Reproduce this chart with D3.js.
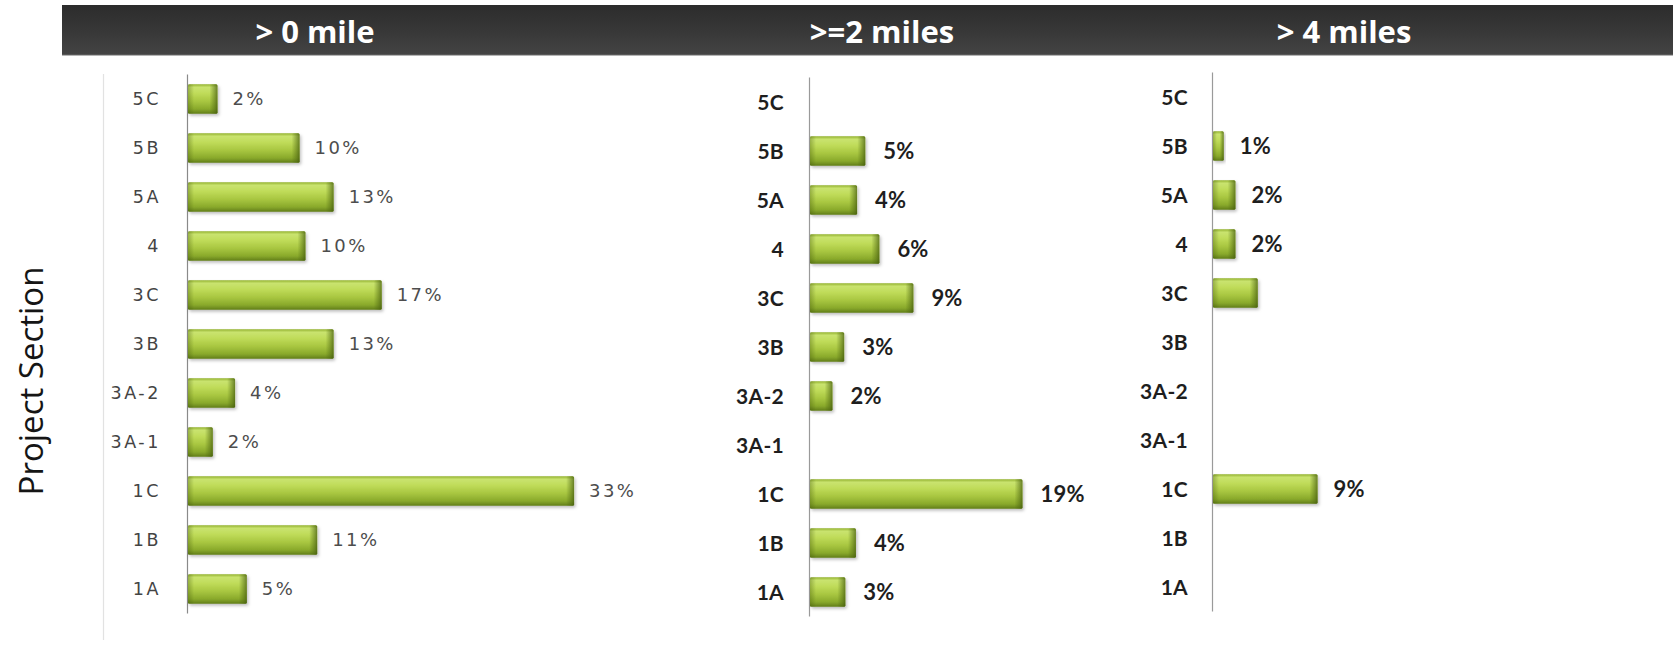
<!DOCTYPE html>
<html>
<head>
<meta charset="utf-8">
<script src="https://cdn.jsdelivr.net/npm/d3@7"></script>
<style>
  html, body { margin: 0; padding: 0; background: #ffffff; }
  svg { display: block; }
</style>
</head>
<body>
<script>
// ---------------- data ----------------
const categories = ["5C", "5B", "5A", "4", "3C", "3B", "3A-2", "3A-1", "1C", "1B", "1A"];
const panelTitles = ["> 0 mile", ">=2 miles", "> 4 miles"];
const valuesAny   = [2.6, 9.6, 12.5, 10.1, 16.6, 12.5, 4.1, 2.2, 33, 11.1, 5.1];
const labelsAny   = ["2%", "10%", "13%", "10%", "17%", "13%", "4%", "2%", "33%", "11%", "5%"];
const values2mi   = [null, 4.8, 4.1, 6.0, 8.9, 3.0, 2.0, null, 18.2, 4.0, 3.1];
const labels2mi   = ["", "5%", "4%", "6%", "9%", "3%", "2%", "", "19%", "4%", "3%"];
const values4mi   = [null, 1.0, 2.0, 2.0, 3.9, null, null, null, 9.0, null, null];
const labels4mi   = ["", "1%", "2%", "2%", "", "", "", "", "9%", "", ""];
const yTitle = "Project Section";

// ---------------- layout ----------------
const W = 1673, H = 655;
const pxPerUnit = 11.73;
const panels = [
  { title: panelTitles[0], values: valuesAny, labels: labelsAny, axisX: 187, top: 74.5, bottom: 613.5, titleX: 315,
    tickFont: "'DejaVu Sans', Verdana, sans-serif", tickSize: 17.5, tickWeight: 400, tickFill: "#444", tickSpacing: 2.6, tickPad: 26,
    labFont: "'DejaVu Sans', Verdana, sans-serif", labSize: 18, labWeight: 400, labFill: "#4d4d4d", labSpacing: 2.4, labGap: 15, axisColor: "#8a8a8a" },
  { title: panelTitles[1], values: values2mi, labels: labels2mi, axisX: 809, top: 77.5, bottom: 616.5, titleX: 882,
    tickFont: "Lato, 'Open Sans', sans-serif", tickSize: 21, tickWeight: 700, tickFill: "#1e1e1e", tickSpacing: 0.3, tickPad: 25,
    labFont: "Lato, 'Open Sans', sans-serif", labSize: 22, labWeight: 700, labFill: "#1e1e1e", labSpacing: 0.2, labGap: 18, axisColor: "#9a9a9a" },
  { title: panelTitles[2], values: values4mi, labels: labels4mi, axisX: 1212, top: 72.5, bottom: 611.5, titleX: 1344,
    tickFont: "Lato, 'Open Sans', sans-serif", tickSize: 21, tickWeight: 700, tickFill: "#1e1e1e", tickSpacing: 0.3, tickPad: 24,
    labFont: "Lato, 'Open Sans', sans-serif", labSize: 22, labWeight: 700, labFill: "#1e1e1e", labSpacing: 0.2, labGap: 16, axisColor: "#9a9a9a" }
];

const svg = d3.select("body").append("svg").attr("width", W).attr("height", H);
const defs = svg.append("defs");

// header gradient
const hg = defs.append("linearGradient").attr("id", "hdrGrad").attr("x1", 0).attr("y1", 0).attr("x2", 0).attr("y2", 1);
hg.append("stop").attr("offset", "0%").attr("stop-color", "#2c2c2c");
hg.append("stop").attr("offset", "55%").attr("stop-color", "#383838");
hg.append("stop").attr("offset", "100%").attr("stop-color", "#444444");

// bar body gradient (vertical)
const bg = defs.append("linearGradient").attr("id", "barGrad").attr("x1", 0).attr("y1", 0).attr("x2", 0).attr("y2", 1);
[["0%", "#93b22f"], ["10%", "#c9e36f"], ["30%", "#c0dc5a"], ["58%", "#a8c640"], ["84%", "#89a92b"], ["100%", "#617e18"]]
  .forEach(([o, c]) => bg.append("stop").attr("offset", o).attr("stop-color", c));
// end cap gradient
const cg = defs.append("linearGradient").attr("id", "capGrad").attr("x1", 0).attr("y1", 0).attr("x2", 1).attr("y2", 0);
cg.append("stop").attr("offset", "0%").attr("stop-color", "#4b6410").attr("stop-opacity", 0);
cg.append("stop").attr("offset", "60%").attr("stop-color", "#4b6410").attr("stop-opacity", 0.45);
cg.append("stop").attr("offset", "100%").attr("stop-color", "#3e540a").attr("stop-opacity", 0.7);
// left shade
const lg = defs.append("linearGradient").attr("id", "leftGrad").attr("x1", 0).attr("y1", 0).attr("x2", 1).attr("y2", 0);
lg.append("stop").attr("offset", "0%").attr("stop-color", "#3f5508").attr("stop-opacity", 0.35);
lg.append("stop").attr("offset", "100%").attr("stop-color", "#3f5508").attr("stop-opacity", 0);

const shadow = defs.append("filter").attr("id", "shadow").attr("x", "-10%").attr("y", "-20%").attr("width", "130%").attr("height", "160%");
shadow.append("feDropShadow").attr("dx", 1.5).attr("dy", 2).attr("stdDeviation", 1.6)
  .attr("flood-color", "#000").attr("flood-opacity", 0.25);

// faint left frame line
svg.append("line").attr("x1", 103.5).attr("x2", 103.5).attr("y1", 74).attr("y2", 640)
  .attr("stroke", "#e2e2e2").attr("stroke-width", 1.2);

// header bar
svg.append("rect").attr("x", 62).attr("y", 5).attr("width", W - 62).attr("height", 50).attr("fill", "url(#hdrGrad)");
svg.append("line").attr("x1", 62).attr("x2", W).attr("y1", 55).attr("y2", 55).attr("stroke", "#6a6a6a").attr("stroke-width", 1);

svg.selectAll("text.ptitle").data(panels).join("text")
  .attr("class", "ptitle")
  .attr("x", d => d.titleX).attr("y", 43)
  .attr("text-anchor", "middle")
  .attr("font-family", "'Open Sans', Lato, sans-serif")
  .attr("font-weight", 700).attr("font-size", 31)
  .attr("fill", "#ffffff")
  .text(d => d.title);

// y title
svg.append("text")
  .attr("transform", "translate(43,381) rotate(-90)")
  .attr("text-anchor", "middle")
  .attr("font-family", "'Open Sans', 'Noto Sans', sans-serif")
  .attr("font-size", 33)
  .attr("font-weight", 500)
  .attr("fill", "#151515")
  .text(yTitle);

// panels
panels.forEach(p => {
  const x = d3.scaleLinear().domain([0, 1]).range([p.axisX, p.axisX + pxPerUnit]);
  const y = d3.scaleBand().domain(categories).range([p.top, p.bottom]).paddingInner(0.4).paddingOuter(0.2);
  const g = svg.append("g");

  const axis = d3.axisLeft(y).tickSize(0).tickPadding(p.tickPad);
  const ag = g.append("g").attr("transform", `translate(${p.axisX},0)`).call(axis);
  ag.select(".domain").attr("stroke", p.axisColor).attr("stroke-width", 1.2)
    .attr("d", `M0.5,${p.top}V${p.bottom}`);
  ag.selectAll(".tick text")
    .attr("font-family", p.tickFont).attr("font-size", p.tickSize).attr("font-weight", p.tickWeight)
    .attr("fill", p.tickFill).attr("letter-spacing", p.tickSpacing)
    .attr("dy", "0.36em");

  const rows = categories.map((c, i) => ({ c, v: p.values[i], lab: p.labels[i] }));
  const barRows = rows.filter(r => r.v != null && r.v > 0);

  const bars = g.selectAll("g.bar").data(barRows).join("g").attr("class", "bar");
  bars.append("rect")
    .attr("x", x(0) + 1).attr("y", r => y(r.c))
    .attr("width", r => x(r.v) - x(0) - 1).attr("height", y.bandwidth())
    .attr("rx", 1.5)
    .attr("fill", "url(#barGrad)")
    .attr("filter", "url(#shadow)");
  bars.append("rect")
    .attr("x", x(0) + 1).attr("y", r => y(r.c))
    .attr("width", r => Math.min(6, (x(r.v) - x(0)) / 3)).attr("height", y.bandwidth())
    .attr("fill", "url(#leftGrad)");
  bars.append("rect")
    .attr("x", r => x(r.v) - Math.min(8, (x(r.v) - x(0)) / 3)).attr("y", r => y(r.c))
    .attr("width", r => Math.min(8, (x(r.v) - x(0)) / 3)).attr("height", y.bandwidth())
    .attr("rx", 1.5)
    .attr("fill", "url(#capGrad)");

  g.selectAll("text.vlab").data(rows.filter(r => r.lab)).join("text")
    .attr("class", "vlab")
    .attr("x", r => x(r.v) + p.labGap)
    .attr("y", r => y(r.c) + y.bandwidth() / 2)
    .attr("dy", "0.36em")
    .attr("font-family", p.labFont).attr("font-size", p.labSize).attr("font-weight", p.labWeight)
    .attr("fill", p.labFill).attr("letter-spacing", p.labSpacing)
    .text(r => r.lab);
});
</script>
</body>
</html>
